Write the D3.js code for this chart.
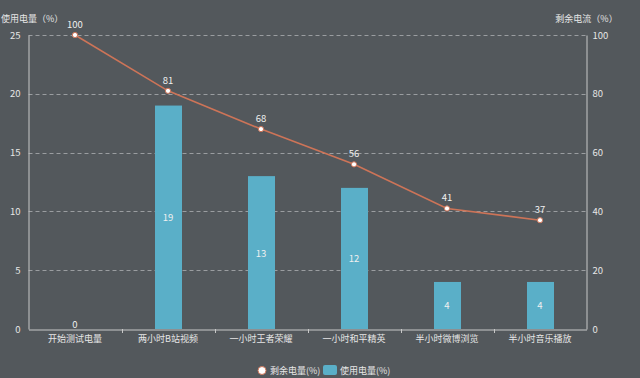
<!DOCTYPE html>
<html><head><meta charset="utf-8">
<script src="https://cdn.jsdelivr.net/npm/d3@7"></script>
<style>
html,body{margin:0;padding:0;background:#53585c;}
svg{display:block;font-family:"Noto Sans CJK SC","Noto Sans",sans-serif;}
</style></head>
<body>
<svg id="c" width="640" height="378"></svg>
<script>
const categories = ["开始测试电量","两小时B站视频","一小时王者荣耀","一小时和平精英","半小时微博浏览","半小时音乐播放"];
const usedValues = [0,19,13,12,4,4];
const remainValues = [100,81,68,56,41,37];
const leftTicks = [0,5,10,15,20,25];
const rightTicks = [0,20,40,60,80,100];
const lineName = "剩余电量(%)";
const barName = "使用电量(%)";
const leftTitle = "使用电量（%）";
const rightTitle = "剩余电流（%）";

const svg = d3.select("#c");
const m = {l:28.5, r:586.5, t:35, b:329};
const x = d3.scaleBand().domain(categories).range([m.l, m.r]);
const yL = d3.scaleLinear().domain([0,25]).range([m.b, m.t]);
const yR = d3.scaleLinear().domain([0,100]).range([m.b, m.t]);
const axisCol = "#c8c8c8", textCol = "#e6e6e6";
const fs = 9;

svg.append("rect").attr("width",640).attr("height",378).attr("fill","#53585c");

svg.append("g").selectAll("line").data(leftTicks.filter(d=>d>0)).join("line")
  .attr("x1",m.l).attr("x2",m.r)
  .attr("y1",d=>Math.round(yL(d))+0.5).attr("y2",d=>Math.round(yL(d))+0.5)
  .attr("stroke","#9a9da0").attr("stroke-dasharray","4,3").attr("stroke-width",1);

const bw = 27;
svg.append("g").selectAll("rect").data(usedValues).join("rect")
  .attr("x",(d,i)=>x(categories[i])+x.bandwidth()/2-bw/2+0.5)
  .attr("width",bw)
  .attr("y",d=>yL(d)).attr("height",d=>m.b-yL(d))
  .attr("fill","#5aafc8");
svg.append("g").selectAll("text").data(usedValues).join("text")
  .attr("x",(d,i)=>x(categories[i])+x.bandwidth()/2)
  .attr("y",d=>d===0? m.b-1 : (yL(d)+m.b)/2+4)
  .attr("text-anchor","middle").attr("font-size",fs+0.5).attr("fill","#f0f0f0")
  .text(d=>d);

const line = d3.line().x((d,i)=>x(categories[i])+x.bandwidth()/2).y(d=>yR(d));
svg.append("path").datum(remainValues).attr("d",line)
  .attr("fill","none").attr("stroke","#cd7458").attr("stroke-width",1.6);
svg.append("g").selectAll("circle").data(remainValues).join("circle")
  .attr("cx",(d,i)=>x(categories[i])+x.bandwidth()/2).attr("cy",d=>yR(d)).attr("r",2.6)
  .attr("fill","#fff").attr("stroke","#cd7458").attr("stroke-width",1);
svg.append("g").selectAll("text").data(remainValues).join("text")
  .attr("x",(d,i)=>x(categories[i])+x.bandwidth()/2).attr("y",d=>yR(d)-7)
  .attr("text-anchor","middle").attr("font-size",fs+0.5).attr("fill","#f0f0f0")
  .text(d=>d);

const gL = svg.append("g").attr("transform",`translate(${m.l},0)`)
  .call(d3.axisLeft(yL).tickValues(leftTicks).tickSize(0).tickPadding(8));
const gR = svg.append("g").attr("transform",`translate(${m.r},0)`)
  .call(d3.axisRight(yR).tickValues(rightTicks).tickSize(0).tickPadding(6));
const gB = svg.append("g").attr("transform",`translate(0,${m.b+0.5})`)
  .call(d3.axisBottom(x).tickSize(0).tickPadding(6));
[gL,gR,gB].forEach(g=>{
  g.select(".domain").attr("stroke",axisCol);
  g.selectAll("text").attr("fill",textCol).attr("font-size",fs).attr("font-family",'"Noto Sans CJK SC",sans-serif');
});
gL.selectAll("text").attr("font-size",fs+0.5);
gR.selectAll("text").attr("font-size",fs+0.5);
svg.append("g").selectAll("line").data(categories.slice(1)).join("line")
  .attr("x1",d=>Math.round(x(d))+0.5).attr("x2",d=>Math.round(x(d))+0.5)
  .attr("y1",m.b).attr("y2",m.b+4).attr("stroke",axisCol);

svg.append("text").attr("x",1).attr("y",22).attr("text-anchor","start")
  .attr("font-size",fs).attr("fill",textCol).text(leftTitle);
svg.append("text").attr("x",m.r).attr("y",22).attr("text-anchor","middle")
  .attr("font-size",fs).attr("fill",textCol).text(rightTitle);

const lg = svg.append("g");
lg.append("circle").attr("cx",262).attr("cy",370.5).attr("r",4).attr("fill","#fff").attr("stroke","#cd7458");
lg.append("text").attr("x",270).attr("y",374).attr("font-size",fs).attr("fill",textCol).text(lineName);
lg.append("rect").attr("x",323).attr("y",365).attr("width",14).attr("height",10).attr("rx",2).attr("fill","#5aafc8");
lg.append("text").attr("x",340).attr("y",374).attr("font-size",fs).attr("fill",textCol).text(barName);
</script>
</body></html>
